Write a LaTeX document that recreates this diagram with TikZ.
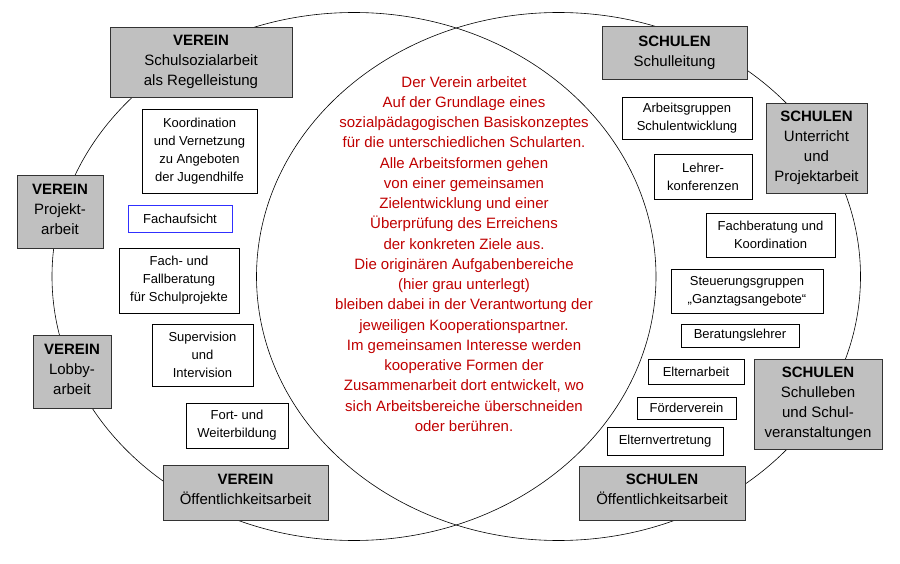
\documentclass[tikz,border=0pt]{standalone}
\usepackage{fontspec}
\setmainfont{Liberation Sans}
\definecolor{boxgrey}{HTML}{C0C0C0}
\definecolor{textred}{HTML}{C00000}
\definecolor{blueedge}{HTML}{3030FF}
\newcommand{\lowdepth}[1]{\rule[-#1]{0pt}{0pt}}
\begin{document}
\begin{tikzpicture}[x=1pt,y=-1pt,
  gbox/.style={draw=black!80, line width=0.8pt, fill=boxgrey, align=center, inner sep=0pt,
    font=\fontsize{15}{20}\selectfont},
  wbox/.style={draw=black, line width=0.7pt, fill=white, align=center, inner sep=0pt,
    font=\fontsize{13}{18}\selectfont},
  redtext/.style={text=textred, align=center, inner sep=0pt,
    font=\fontsize{15}{20.25}\selectfont},
  ring/.style={draw=black, line width=0.6pt}]
\useasboundingbox (0,0) rectangle (900,564);
\fill[white] (0,0) rectangle (900,564);
% circles
\draw[ring] (354,276.5) ellipse [x radius=302pt, y radius=264pt];
\draw[ring] (558.5,276.5) ellipse [x radius=302pt, y radius=264pt];
% central text
\node[redtext] (mid) at (464,254) {Der Verein arbeitet\\Auf der Grundlage eines\\sozialpädagogischen Basiskonzeptes\\für die unterschiedlichen Schularten.\\Alle Arbeitsformen gehen\\von einer gemeinsamen\\Zielentwicklung und einer\\Überprüfung des Erreichens\\der konkreten Ziele aus.\\Die originären Aufgabenbereiche\\(hier grau unterlegt)\\bleiben dabei in der Verantwortung der\\jeweiligen Kooperationspartner.\\Im gemeinsamen Interesse werden\\kooperative Formen der\\Zusammenarbeit dort entwickelt, wo\\sich Arbeitsbereiche überschneiden\\oder berühren.};
% VEREIN side
\node[gbox, minimum width=182pt, minimum height=70pt] (v1) at (201,62) {\textbf{VEREIN}\\Schulsozialarbeit\\als Regelleistung};
\node[wbox, minimum width=115pt, minimum height=84pt] (k1) at (199.5,151) {Koordination\\und Vernetzung\\zu Angeboten\\der Jugendhilfe};
\node[gbox, minimum width=86pt, minimum height=73pt] (v2) at (60,211.5) {\textbf{VEREIN}\\Projekt-\\arbeit\lowdepth{5pt}};
\node[wbox, draw=blueedge, minimum width=104pt, minimum height=27pt] (fa) at (180,218.5) {Fachaufsicht};
\node[wbox, minimum width=120pt, minimum height=65pt] (ff) at (179,280.5) {Fach- und\\Fallberatung\\für Schulprojekte};
\node[wbox, minimum width=101pt, minimum height=62pt] (sv) at (202.5,355) {Supervision\\und\\Intervision};
\node[gbox, minimum width=78pt, minimum height=73pt] (v3) at (72,371.5) {\textbf{VEREIN}\\Lobby-\\arbeit\lowdepth{5pt}};
\node[wbox, minimum width=102pt, minimum height=45pt] (fw) at (237,425.5) {Fort- und\\Weiterbildung};
\node[gbox, minimum width=165pt, minimum height=55pt] (v4) at (245.5,492.5) {\textbf{VEREIN}\\Öffentlichkeitsarbeit\lowdepth{7pt}};
% SCHULEN side
\node[gbox, minimum width=145pt, minimum height=53pt] (s1) at (674.5,52.5) {\textbf{SCHULEN}\\Schulleitung};
\node[wbox, minimum width=130pt, minimum height=42pt] (ag) at (687,118) {Arbeitsgruppen\\Schulentwicklung};
\node[gbox, minimum width=101pt, minimum height=90pt] (s2) at (816.5,148) {\textbf{SCHULEN}\\Unterricht\\und\\Projektarbeit};
\node[wbox, minimum width=98pt, minimum height=45pt] (lk) at (703,176.5) {Lehrer-\\konferenzen};
\node[wbox, minimum width=129pt, minimum height=44pt] (fk) at (770.5,235) {Fachberatung und\\Koordination};
\node[wbox, minimum width=152pt, minimum height=44pt] (sg) at (747,291) {Steuerungsgruppen\\„Ganztagsangebote“};
\node[wbox, minimum width=118pt, minimum height=23pt] (bl) at (740,335.5) {Beratungslehrer};
\node[wbox, minimum width=96pt, minimum height=25pt] (ea) at (696,371.5) {Elternarbeit};
\node[gbox, minimum width=128pt, minimum height=90pt] (s3) at (818,404) {\textbf{SCHULEN}\\Schulleben\\und Schul-\\veranstaltungen};
\node[wbox, minimum width=99pt, minimum height=22pt] (fv) at (686.5,408) {Förderverein};
\node[wbox, minimum width=116pt, minimum height=28pt] (ev) at (665,441) {Elternvertretung};
\node[gbox, minimum width=166pt, minimum height=54pt] (s4) at (662,493) {\textbf{SCHULEN}\\Öffentlichkeitsarbeit\lowdepth{7pt}};
\end{tikzpicture}
\end{document}
